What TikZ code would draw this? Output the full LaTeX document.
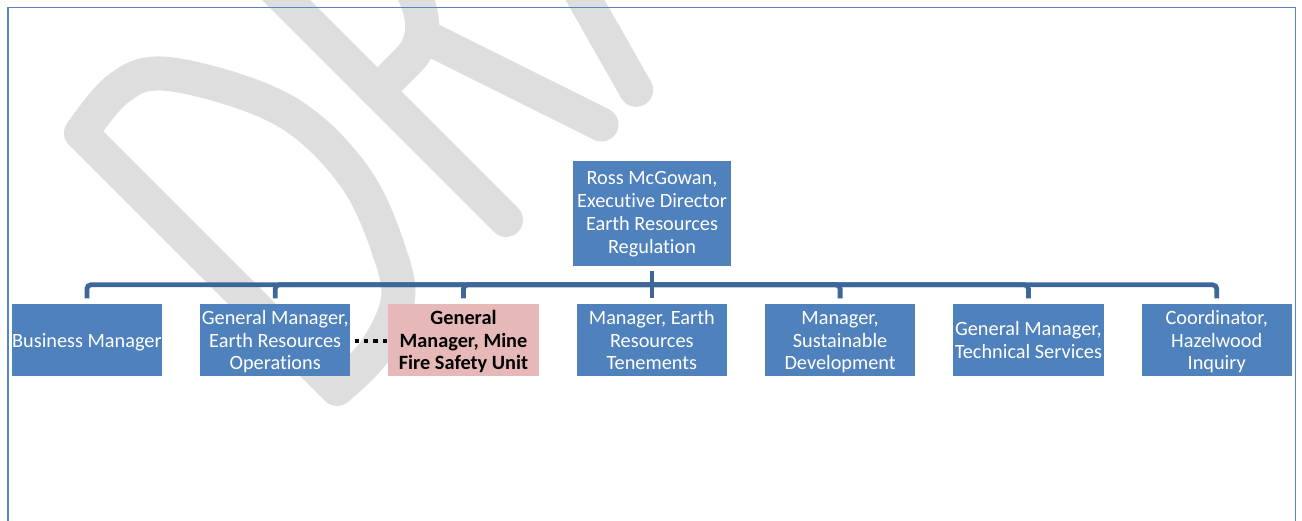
\documentclass[tikz,border=0pt]{standalone}
\usepackage{fontspec}
\setmainfont{Carlito}[RawFeature=-liga]
\definecolor{boxblue}{RGB}{79,129,189}
\definecolor{boxpink}{RGB}{230,185,184}
\definecolor{connblue}{RGB}{62,103,153}
\definecolor{framecol}{RGB}{85,135,195}
\definecolor{wmgray}{RGB}{222,222,222}
\newcommand{\tstrut}{\rule[-6pt]{0pt}{26.5pt}}
\newcommand{\topstrut}{\rule[-6pt]{0pt}{24pt}}
\begin{document}
\begin{tikzpicture}[x=1pt,y=1pt,
  box/.style={fill=boxblue, text=white, minimum width=150.3pt, minimum height=72.5pt, inner sep=0pt, align=center, font=\fontsize{20.3}{22.9}\selectfont, execute at end node=\tstrut},
  pinkbox/.style={box, fill=boxpink, text=black, font=\fontsize{20.3}{22.9}\selectfont\bfseries},
  conn/.style={draw=connblue, line width=4.8pt},
  wm/.style={draw=wmgray, line width=34pt, line join=round, line cap=round},
  dotline/.style={draw=black, line width=4.3pt, dash pattern=on 4.3pt off 5.1pt}]
\useasboundingbox (0,0) rectangle (1302,-521);
\begin{scope}
\clip (0,0) rectangle (1302,-521);
% watermark
\begin{scope}[shift={(337,-413)}, rotate=45]
  \draw[wm] plot[smooth, tension=0.6] coordinates {(17,379) (75,384) (117,363) (163,287) (182,222) (178,147) (152,79) (123,37) (70,17) (17,17)} -- cycle;
  \draw[wm] (256,17) -- (256,379);
  \draw[wm] (256,379) -- (300,379) .. controls (345,379) and (358,340) .. (358,290) .. controls (358,235) and (335,199) .. (300,199) -- (256,199);
  \draw[wm] (330,199) -- (391,17);
  \draw[wm] (440,17) -- (540,380) -- (640,17);
  \draw[wm] (475,130) -- (605,130);
\end{scope}
% frame
\draw[framecol, line width=1.3pt] (8,-7.5) rectangle (1295.7,-540);
\end{scope}
% nodes
\node[box, minimum width=157.4pt, minimum height=104.7pt] (top) at (652,-213.3) {\topstrut Ross McGowan,\\Executive Director\\Earth Resources\\Regulation};
\node[box] (c1) at (86.9,-339.8) {\tstrut Business Manager};
\node[box] (c2) at (275.2,-339.8) {\tstrut General Manager,\\Earth Resources\\Operations};
\node[pinkbox] (c3) at (463.5,-339.8) {\tstrut General\\Manager, Mine\\Fire Safety Unit};
\node[box] (c4) at (651.8,-339.8) {\tstrut Manager, Earth\\Resources\\Tenements};
\node[box] (c5) at (840.1,-339.8) {\tstrut Manager,\\Sustainable\\Development};
\node[box] (c6) at (1028.4,-339.8) {\tstrut General Manager,\\Technical Services};
\node[box] (c7) at (1216.7,-339.8) {\tstrut Coordinator,\\Hazelwood\\Inquiry};
% connectors
\coordinate (bar) at (652,-284.8);
\draw[conn, shorten <=5pt] (top.south) -- (top.south |- bar);
\foreach \c in {c1,c2,c3,c5,c6,c7}
  \draw[conn, rounded corners=4pt, shorten >=5pt] (top.south |- bar) -| (\c.north);
\draw[conn, shorten >=5pt] (top.south |- bar) -- (top.south |- c4.north);
\draw[dotline] ([xshift=4pt,yshift=-1.5pt]c2.east) -- ([yshift=-1.5pt]c3.west);
\end{tikzpicture}
\end{document}
